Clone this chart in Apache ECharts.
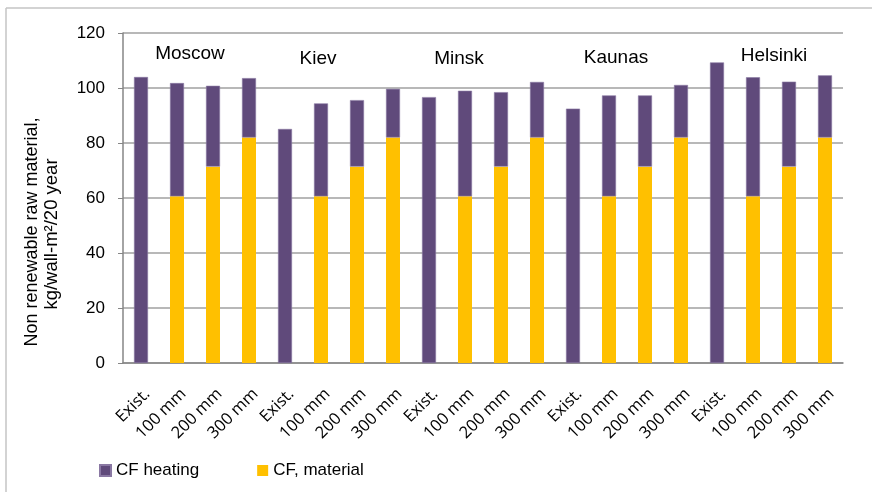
<!DOCTYPE html>
<html>
<head>
<meta charset="utf-8">
<script src="https://cdn.jsdelivr.net/npm/echarts@6/dist/echarts.min.js"></script>
<style>html,body{margin:0;padding:0;background:#fff;}#c{width:872px;height:492px;}</style>
</head>
<body>
<div id="c"></div>
<script>
var categories = ['Exist.','100 mm','200 mm','300 mm','Exist.','100 mm','200 mm','300 mm','Exist.','100 mm','200 mm','300 mm','Exist.','100 mm','200 mm','300 mm','Exist.','100 mm','200 mm','300 mm'];
var cities = ['Moscow','Kiev','Minsk','Kaunas','Helsinki'];
var cfMaterial = ['-',60.6,71.4,82.0, '-',60.6,71.4,82.0, '-',60.6,71.4,82.0, '-',60.6,71.4,82.0, '-',60.6,71.4,82.0];
var cfHeating = [104.0,41.2,29.4,21.6, 85.1,33.8,24.2,17.7, 96.7,38.4,27.1,20.2, 92.5,36.7,25.9,19.1, 109.3,43.3,30.9,22.6];
var yTicks = [0,20,40,60,80,100,120];

var cityPos = [[190,53.5],[318,58.5],[459,58.5],[616,58],[774,56]];

var chart = echarts.init(document.getElementById('c'), null, {renderer:'canvas'});
var graphics = [
  {type:'line', shape:{x1:6,y1:8,x2:872,y2:8}, style:{stroke:'#c4c4c4', lineWidth:1.5}, silent:true},
  {type:'line', shape:{x1:6,y1:8,x2:6,y2:492}, style:{stroke:'#c4c4c4', lineWidth:1.5}, silent:true},
  {type:'text', x:32, y:232, rotation:Math.PI/2, style:{text:'Non renewable raw material,', font:'18px "Liberation Sans"', fill:'#000', align:'center', verticalAlign:'middle'}},
  {type:'text', x:52, y:234, rotation:Math.PI/2, style:{text:'kg/wall-m\u00b2/20 year', font:'18.5px "Liberation Sans"', fill:'#000', align:'center', verticalAlign:'middle'}}
];
cities.forEach(function(c,i){
  graphics.push({type:'text', x:cityPos[i][0], y:cityPos[i][1], style:{text:c, font:'19px "Liberation Sans"', fill:'#000', align:'center', verticalAlign:'middle'}});
});

chart.setOption({
  animation:false,
  backgroundColor:'#fff',
  grid:{left:123, right:29, top:33, bottom:129, containLabel:false},
  legend:{
    data:['CF heating','CF, material'],
    left:94, top:457, itemWidth:11, itemHeight:11, itemGap:58, icon:'rect',
    textStyle:{fontFamily:'Liberation Sans', fontSize:17, color:'#000'}
  },
  xAxis:{
    type:'category', data:categories,
    axisLine:{lineStyle:{color:'#868686', width:1.5}},
    axisTick:{show:false},
    axisLabel:{rotate:45, interval:0, margin:22, align:'right', verticalAlign:'top', lineHeight:18,
      fontFamily:'Open Sans', fontSize:16.5, color:'#000'}
  },
  yAxis:{
    type:'value', min:0, max:120, interval:20,
    axisLine:{show:true, lineStyle:{color:'#868686', width:1.5}},
    axisTick:{show:true, length:5, lineStyle:{color:'#868686'}},
    splitLine:{lineStyle:{color:'#a0a0a0', width:1.5}},
    axisLabel:{margin:18, fontFamily:'Liberation Sans', fontSize:17, color:'#000'}
  },
  series:[
    {name:'CF, material', type:'bar', stack:'a', data:cfMaterial, barWidth:14, itemStyle:{color:'#FFC000'}},
    {name:'CF heating', type:'bar', stack:'a', data:cfHeating, barWidth:14, itemStyle:{color:'#604A7B', borderColor:'#8a78a3', borderWidth:0.6}}
  ],
  graphic:graphics
});
</script>
</body>
</html>
